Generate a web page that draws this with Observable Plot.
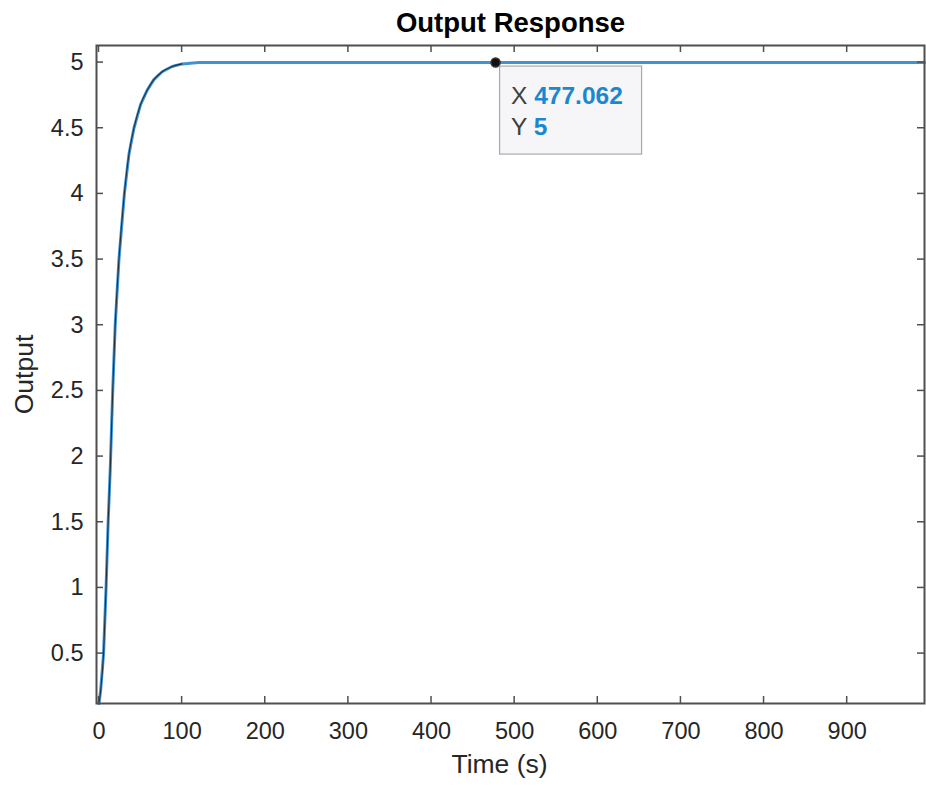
<!DOCTYPE html>
<html><head><meta charset="utf-8">
<script src="https://cdn.jsdelivr.net/npm/d3@7"></script>
<script src="https://cdn.jsdelivr.net/npm/@observablehq/plot@0.6"></script>
<style>
body{margin:0;background:#fff} svg{display:block}
g[aria-label="x-axis tick label"], g[aria-label="y-axis tick label"] { font-size: 23.5px !important; }
</style>
</head><body><div id="chart"></div>
<script>
// ---- data ----
const time   = [0, 2, 5.5, 8.5, 11, 13.5, 16.5, 19.5, 24, 30.5, 36, 42, 50, 58, 66, 76, 88, 100, 120, 150, 300, 500, 700, 993];
const output = [0.12, 0.22, 0.5, 1.0, 1.5, 1.9, 2.5, 3.0, 3.5, 4.0, 4.3, 4.5, 4.68, 4.79, 4.87, 4.93, 4.97, 4.99, 5.0, 5.0, 5.0, 5.0, 5.0, 5.0];
const xTicks = [0, 100, 200, 300, 400, 500, 600, 700, 800, 900];
const yTicks = [0.5, 1, 1.5, 2, 2.5, 3, 3.5, 4, 4.5, 5];
const tipX = 477.062;
const tipY = 5;
const titleText = "Output Response";
const xLabel = "Time (s)";
const yLabel = "Output";

const data = time.map((t, i) => ({t, v: output[i]}));
const early = data.filter(d => d.t <= 100);
const FONT = "'Liberation Sans', Arial, Helvetica, sans-serif";
const AX = "#4f4f4f";

function tickMarks(index, {x, y}, values, dims) {
  const g = d3.create("svg:g").attr("stroke", AX).attr("stroke-width", 1.5);
  const L = dims.marginLeft, R = dims.width - dims.marginRight;
  const T = dims.marginTop, B = dims.height - dims.marginBottom;
  const len = 7;
  for (const v of xTicks) {
    const px = x(v);
    g.append("line").attr("x1", px).attr("x2", px).attr("y1", B).attr("y2", B - len);
    g.append("line").attr("x1", px).attr("x2", px).attr("y1", T).attr("y2", T + len);
  }
  for (const v of yTicks) {
    const py = y(v);
    g.append("line").attr("y1", py).attr("y2", py).attr("x1", L).attr("x2", L + len);
    g.append("line").attr("y1", py).attr("y2", py).attr("x1", R).attr("x2", R - len);
  }
  return g.node();
}

function dataTip(index, {x, y}) {
  const x0 = x(tipX), y0 = y(tipY);
  const g = d3.create("svg:g").attr("font-family", FONT).attr("font-size", 24.5).attr("text-anchor", "start");
  g.append("rect").attr("x", x0 + 4.5).attr("y", y0 + 4).attr("width", 142).attr("height", 88)
    .attr("fill", "#f6f6f8").attr("stroke", "#a9a9a9").attr("stroke-width", 1.2);
  const t1 = g.append("text").attr("x", x0 + 16).attr("y", y0 + 41.5);
  t1.append("tspan").attr("fill", "#404040").text("X ");
  t1.append("tspan").attr("fill", "#1b87d0").attr("font-weight", "bold").text(String(tipX));
  const t2 = g.append("text").attr("x", x0 + 16).attr("y", y0 + 73);
  t2.append("tspan").attr("fill", "#404040").text("Y ");
  t2.append("tspan").attr("fill", "#1b87d0").attr("font-weight", "bold").text(String(tipY));
  return g.node();
}

const chart = Plot.plot({
  width: 926,
  height: 786,
  marginLeft: 96,
  marginRight: 2,
  marginTop: 45,
  marginBottom: 83,
  style: {fontFamily: FONT, background: "#fff"},
  x: {domain: [-3, 993]},
  y: {domain: [0.12, 5.13]},
  marks: [
    Plot.line(data, {x: "t", y: "v", stroke: "#3f93d3", strokeWidth: 3}),
    Plot.line(early, {x: "t", y: "v", stroke: "#1e3340", strokeWidth: 1.1, curve: "monotone-x"}),
    Plot.frame({stroke: AX, strokeWidth: 2}),
    tickMarks,
    Plot.axisX({ticks: xTicks, tickSize: 0, tickPadding: 19, fontSize: 23.5, color: "#262626", label: null, tickFormat: d => String(d)}),
    Plot.axisY({ticks: yTicks, tickSize: 0, tickPadding: 13, fontSize: 23.5, color: "#262626", label: null, tickFormat: d => String(d)}),
    Plot.dot([{t: tipX, v: tipY}], {x: "t", y: "v", r: 4.5, fill: "#111", stroke: "#333"}),
    dataTip,
    Plot.text([titleText], {frameAnchor: "top", dy: -14, lineAnchor: "bottom", textAnchor: "middle", fontSize: 27.5, fontWeight: "bold", fill: "#000"}),
    Plot.text([xLabel], {frameAnchor: "bottom", dx: -11, dy: 69, lineAnchor: "bottom", textAnchor: "middle", fontSize: 26.5, fill: "#262626"}),
    Plot.text([yLabel], {frameAnchor: "left", dx: -72, rotate: -90, textAnchor: "middle", fontSize: 26.5, fill: "#262626"})
  ]
});
document.getElementById("chart").appendChild(chart);
</script>
</body></html>
